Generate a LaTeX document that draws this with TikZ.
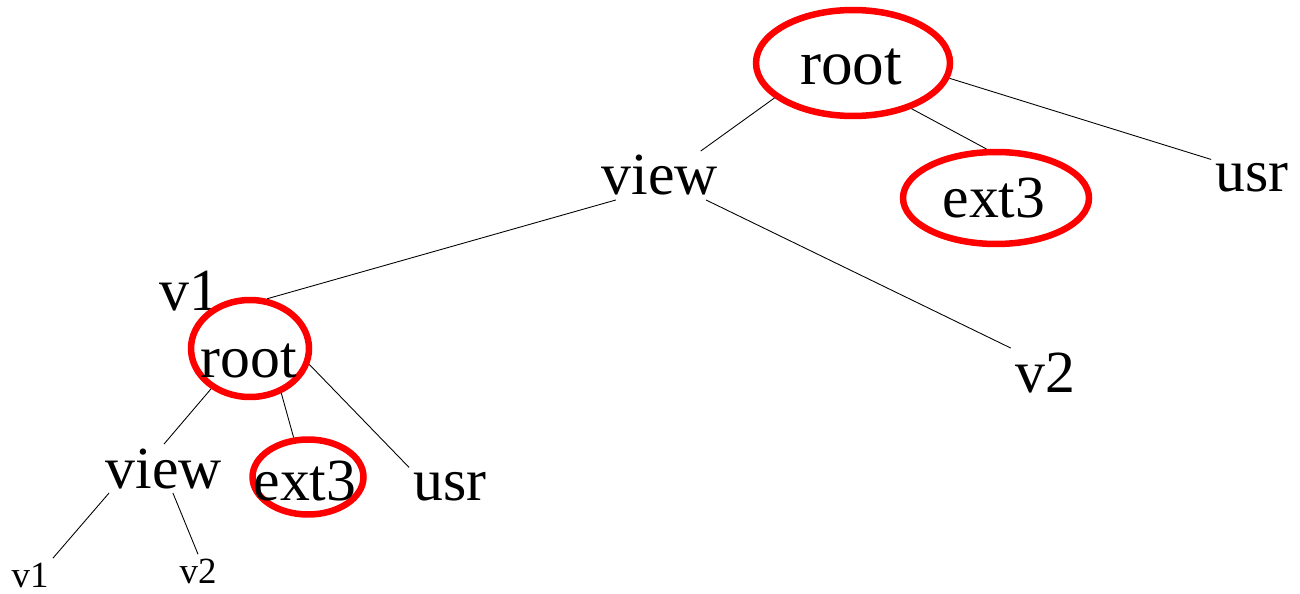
\documentclass[tikz,border=0pt]{standalone}
\usepackage{fontspec}
\setmainfont{Liberation Serif}
\definecolor{ringred}{HTML}{FF0000}
\usetikzlibrary{shapes.geometric}

\begin{document}
\begin{tikzpicture}[
    x=0.02cm,y=-0.02cm,
    lbl/.style={anchor=base,inner sep=2.3pt,font=\fontsize{34}{40}\selectfont},
    small/.style={anchor=base,inner sep=2.3pt,font=\fontsize{21}{25}\selectfont},
    ring/.style={ellipse,draw=ringred,line width=3.7pt,inner sep=0pt},
    link/.style={draw=black,line width=0.5pt},
  ]
    \useasboundingbox (0,0) rectangle (1300,594);

    % upper tree
    \node[ring,minimum width=3.88cm,minimum height=2.12cm] (ringA) at (853,63) {};
    \node[lbl,font=\fontsize{36}{42}\selectfont] (root) at (851,85) {root};
    \node[lbl] (view) at (660,195) {view};
    \node[ring,minimum width=3.72cm,minimum height=1.84cm] (ringB) at (996,198) {};
    \node[lbl] (ext) at (994,218) {ext3};
    \node[lbl] (usr) at (1252,192) {usr};
    \node[lbl] (vone) at (189,310) {v1};
    \node[lbl] (vtwo) at (1045,392) {v2};

    % subtree under v1
    \node[ring,minimum width=2.36cm,minimum height=1.94cm] (ringC) at (250,348.5) {};
    \node[lbl] (subroot) at (249,377) {root};
    \node[lbl] (subview) at (164,488) {view};
    \node[ring,minimum width=2.22cm,minimum height=1.5cm] (ringD) at (308,477) {};
    \node[lbl] (subext) at (305,500) {ext3};
    \node[lbl] (subusr) at (450,500) {usr};
    \node[small] (subvone) at (30,587) {v1};
    \node[small] (subvtwo) at (198,583) {v2};

    \draw[link] (ringA.204) -- (view.31);
    \draw[link] (ringA.322) -- (ringB.101);
    \draw[link] (ringA.351) -- (usr.north west);
    \draw[link] (view.209) -- (ringC.71);
    \draw[link] (view.-28) -- (vtwo.north west);

    \draw[link] (ringC.226) -- (subview.north);
    \draw[link] (ringC.305) -- (ringD.110);
    \draw[link] (ringC.345) -- (subusr.north west);
    \draw[link] (subview.204) -- (subvone.north east);
    \draw[link] (subview.-70) -- (subvtwo.north);
  \end{tikzpicture}
\end{document}
